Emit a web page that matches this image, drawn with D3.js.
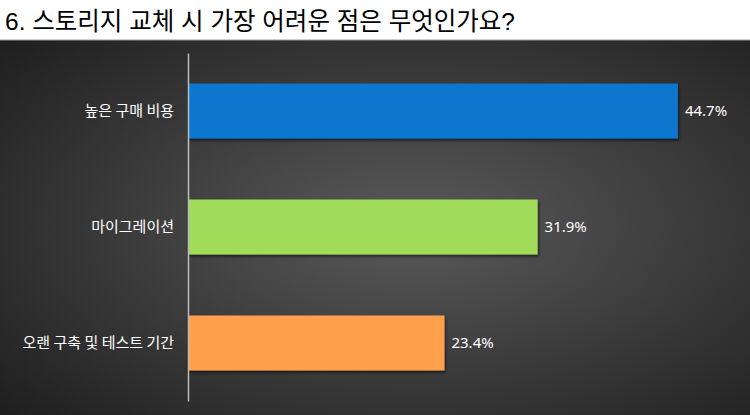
<!DOCTYPE html>
<html><head><meta charset="utf-8">
<script src="https://cdn.jsdelivr.net/npm/d3@7"></script>
<style>body{margin:0;background:#fff;}svg{display:block;}</style>
</head><body>
<svg id="c" width="750" height="415"></svg>
<script>
const categories = ["높은 구매 비용", "마이그레이션", "오랜 구축 및 테스트 기간"];
const values = [44.7, 31.9, 23.4];
const colors = ["#0877D0", "#A0DC5A", "#FFA04E"];
const title = "6. 스토리지 교체 시 가장 어려운 점은 무엇인가요?";

const svg = d3.select("#c");
const defs = svg.append("defs");
const rg = defs.append("radialGradient").attr("id","bg").attr("cx","55%").attr("cy","50%").attr("r","75%");
rg.append("stop").attr("offset","0%").attr("stop-color","#5a5a5a");
rg.append("stop").attr("offset","100%").attr("stop-color","#1e1e1e");
const f = defs.append("filter").attr("id","sh").attr("x","-5%").attr("y","-20%").attr("width","110%").attr("height","150%");
f.append("feDropShadow").attr("dx",1).attr("dy",2).attr("stdDeviation",1.5).attr("flood-color","#000").attr("flood-opacity",0.6);

svg.append("rect").attr("x",0).attr("y",40).attr("width",750).attr("height",375).attr("fill","url(#bg)");
svg.append("line").attr("x1",0).attr("x2",750).attr("y1",40).attr("y2",40).attr("stroke","#9a9a9a").attr("stroke-width",1);

svg.append("text").attr("x",5).attr("y",30).text(title)
  .attr("font-family","'Liberation Sans','Noto Sans CJK KR',sans-serif").attr("font-size",24.5).attr("fill","#000");

const x = d3.scaleLinear().domain([0, 100]).range([188, 188 + 1096]);
const y = d3.scaleBand().domain(categories).range([53, 401]).paddingInner(0.526).paddingOuter(0.263);

svg.selectAll("rect.bar").data(values).enter().append("rect").attr("class","bar")
  .attr("x", x(0)).attr("y", (d,i)=>y(categories[i]))
  .attr("width", d=>x(d)-x(0)).attr("height", y.bandwidth())
  .attr("fill", (d,i)=>colors[i]).attr("filter","url(#sh)");

const yAxis = svg.append("g").attr("transform",`translate(${x(0)},0)`).call(d3.axisLeft(y).tickSize(0).tickPadding(14));
yAxis.select(".domain").attr("stroke","#bdbdbd").attr("stroke-width",1.5);
yAxis.selectAll("text").attr("fill","#fff").attr("font-size",15).attr("font-family","'Noto Sans CJK KR',sans-serif");

svg.selectAll("text.val").data(values).enter().append("text").attr("class","val")
  .attr("x", d=>x(d)+7).attr("y",(d,i)=>y(categories[i])+y.bandwidth()/2).attr("dy","0.35em")
  .text(d=>d.toFixed(1)+"%").attr("fill","#fff").attr("font-size",15)
  .attr("font-family","'Noto Sans','Open Sans',sans-serif");
</script>
</body></html>
